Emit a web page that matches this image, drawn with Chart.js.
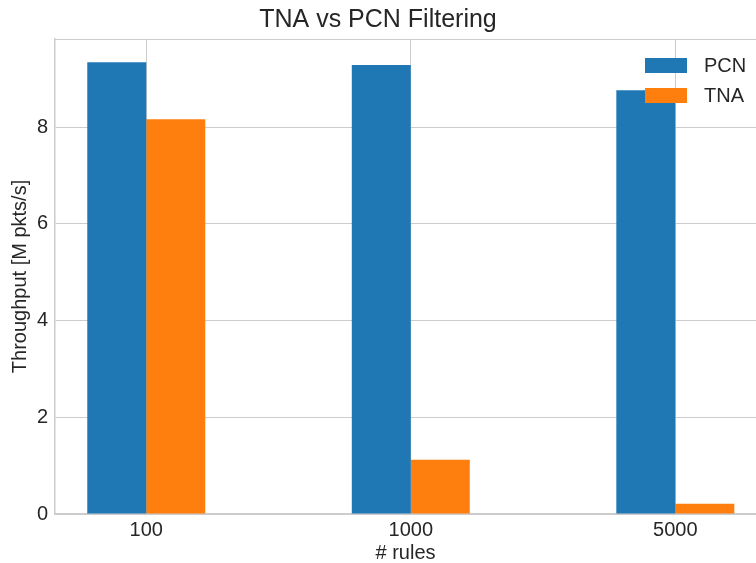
<!DOCTYPE html>
<html>
<head>
<meta charset="utf-8">
<script src="https://cdn.jsdelivr.net/npm/chart.js@4/dist/chart.umd.min.js"></script>
<style>
  html, body { margin: 0; padding: 0; background: #fff; }
  #chart { display: block; }
</style>
</head>
<body>
<canvas id="chart" width="756" height="563"></canvas>
<script>
var categories = ['100', '1000', '5000']
var pcnValues = [9.34, 9.28, 8.76]
var tnaValues = [8.16, 1.12, 0.21]
var yTicks = [0, 2, 4, 6, 8]

var textColor = '#262626'
var gridColor = '#cccccc'
var fontFamily = "'Liberation Sans', Arial, sans-serif"

function toPoints(values) {
    return values.map(function (v, i) { return { x: i, y: v } })
}

// legend + top border drawn inside the plot area like matplotlib
var boxPlugin = {
    id: 'boxPlugin',
    afterDraw: function (chart) {
        var ctx = chart.ctx
        var area = chart.chartArea
        ctx.save()
        ctx.strokeStyle = gridColor
        ctx.lineWidth = 1
        ctx.beginPath()
        ctx.moveTo(area.left, area.top + 0.5)
        ctx.lineTo(area.right, area.top + 0.5)
        ctx.stroke()

        ctx.font = '20px ' + fontFamily
        ctx.textBaseline = 'middle'
        chart.data.datasets.forEach(function (ds, i) {
            var y = 65.5 + i * 30
            ctx.fillStyle = ds.backgroundColor
            ctx.fillRect(645, y - 7.5, 42, 15)
            ctx.fillStyle = textColor
            ctx.fillText(ds.label, 704, y + 1)
        })
        ctx.restore()
    }
}

new Chart(document.getElementById('chart'), {
    type: 'bar',
    data: {
        datasets: [
        {
            label: 'PCN',
            data: toPoints(pcnValues),
            backgroundColor: '#1f77b4',
            categoryPercentage: 0.446,
            barPercentage: 1.0,
        },
        {
            label: 'TNA',
            data: toPoints(tnaValues),
            backgroundColor: '#ff7f0e',
            categoryPercentage: 0.446,
            barPercentage: 1.0,
        }
        ]
    },
    options: {
        responsive: false,
        animation: false,
        layout: { padding: { left: 0, right: 0, top: 0, bottom: 0 } },
        plugins: {
            legend: { display: false },
            tooltip: { enabled: false },
            title: {
                display: true,
                text: 'TNA vs PCN Filtering',
                color: textColor,
                font: { family: fontFamily, size: 25, weight: 'normal' },
                padding: { top: 5, bottom: 4 },
            }
        },
        scales: {
            x: {
                type: 'linear',
                offset: false,
                min: -0.345,
                max: 2.305,
                afterBuildTicks: function (scale) {
                    scale.ticks = categories.map(function (c, i) { return { value: i } })
                },
                afterFit: function (scale) { scale.height = 49 },
                ticks: {
                    color: textColor,
                    font: { family: fontFamily, size: 20 },
                    padding: 4,
                    autoSkip: false,
                    maxRotation: 0,
                    callback: function (v) { return categories[v] }
                },
                grid: { color: gridColor, drawTicks: false, offset: false },
                border: { color: gridColor, width: 1.5 },
                title: {
                    display: true,
                    text: '# rules',
                    color: textColor,
                    font: { family: fontFamily, size: 20, lineHeight: 1.0 },
                    padding: { top: 0, bottom: 0 }
                }
            },
            y: {
                min: 0,
                max: 9.82,
                afterBuildTicks: function (scale) {
                    scale.ticks = yTicks.map(function (v) { return { value: v } })
                },
                afterFit: function (scale) { scale.width = 55 },
                ticks: {
                    color: textColor,
                    font: { family: fontFamily, size: 20 },
                    padding: 7,
                },
                grid: { color: gridColor, drawTicks: false },
                border: { color: gridColor, width: 1.5 },
                title: {
                    display: true,
                    text: 'Throughput [M pkts/s]',
                    color: textColor,
                    font: { family: fontFamily, size: 20 },
                    padding: { top: 8, bottom: 0 }
                }
            }
        }
    },
    plugins: [boxPlugin]
})
</script>
</body>
</html>
